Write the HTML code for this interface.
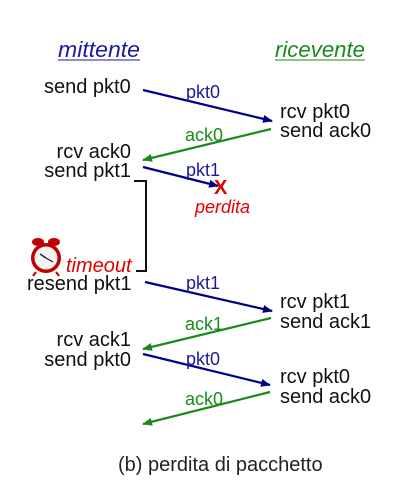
<!DOCTYPE html>
<html><head><meta charset="utf-8"><style>
html,body{margin:0;padding:0;background:#fff;width:401px;height:483px;overflow:hidden}
svg{display:block}
text{font-family:"Liberation Sans",sans-serif}
</style></head><body>
<svg width="401" height="483" viewBox="0 0 401 483">
<defs>
<marker id="ab" markerWidth="10" markerHeight="8" refX="9" refY="4" orient="auto" markerUnits="userSpaceOnUse"><path d="M0,0 L10,4 L0,8 Z" fill="#00008b"/></marker>
<marker id="ag" markerWidth="10" markerHeight="8" refX="9" refY="4" orient="auto" markerUnits="userSpaceOnUse"><path d="M0,0 L10,4 L0,8 Z" fill="#1a8a1a"/></marker>
</defs>
<text x="58" y="57" font-size="22" font-style="italic" fill="#1a1aa0" textLength="82" lengthAdjust="spacingAndGlyphs">mittente</text>
<line x1="58" y1="60" x2="140" y2="60" stroke="#1a1aa0" stroke-width="1"/>
<text x="275" y="57" font-size="22" font-style="italic" fill="#1a8a1a" textLength="90" lengthAdjust="spacingAndGlyphs">ricevente</text>
<line x1="275" y1="60" x2="365" y2="60" stroke="#1a8a1a" stroke-width="1"/>
<g font-size="20" fill="#111">
<text x="44" y="93">send pkt0</text>
<text x="280" y="118">rcv pkt0</text>
<text x="280" y="137">send ack0</text>
<text x="131" y="158" text-anchor="end">rcv ack0</text>
<text x="131" y="177" text-anchor="end">send pkt1</text>
<text x="27" y="290">resend pkt1</text>
<text x="280" y="308">rcv pkt1</text>
<text x="280" y="328">send ack1</text>
<text x="131" y="346" text-anchor="end">rcv ack1</text>
<text x="131" y="366" text-anchor="end">send pkt0</text>
<text x="280" y="383">rcv pkt0</text>
<text x="280" y="403">send ack0</text>
</g>
<g stroke-width="2.2" fill="none">
<line x1="143" y1="90" x2="272" y2="121" stroke="#00008b" marker-end="url(#ab)"/>
<line x1="271" y1="129" x2="143" y2="160" stroke="#1a8a1a" marker-end="url(#ag)"/>
<line x1="143" y1="167" x2="218" y2="186" stroke="#00008b" marker-end="url(#ab)"/>
<line x1="145" y1="282" x2="272" y2="311" stroke="#00008b" marker-end="url(#ab)"/>
<line x1="271" y1="318" x2="143" y2="349" stroke="#1a8a1a" marker-end="url(#ag)"/>
<line x1="143" y1="354" x2="270" y2="385" stroke="#00008b" marker-end="url(#ab)"/>
<line x1="270" y1="392" x2="143" y2="424" stroke="#1a8a1a" marker-end="url(#ag)"/>
<polyline points="134,181 146,181 146,271 136,271" stroke="#111" stroke-width="2"/>
</g>
<g font-size="18">
<text x="186" y="98" fill="#1a1aa0">pkt0</text>
<text x="185" y="141" fill="#1a8a1a">ack0</text>
<text x="186" y="176" fill="#1a1aa0">pkt1</text>
<text x="186" y="289" fill="#1a1aa0">pkt1</text>
<text x="185" y="330" fill="#1a8a1a">ack1</text>
<text x="186" y="365" fill="#1a1aa0">pkt0</text>
<text x="185" y="405" fill="#1a8a1a">ack0</text>
</g>
<text x="214" y="194" font-size="20" font-weight="bold" fill="#e00000">X</text>
<text x="195" y="213" font-size="18" font-style="italic" fill="#e00000">perdita</text>
<text x="66" y="272" font-size="20" font-style="italic" fill="#e00000">timeout</text>
<g>
<ellipse cx="38" cy="242" rx="6" ry="4" fill="#c00000"/>
<ellipse cx="54" cy="242" rx="6" ry="4" fill="#c00000"/>
<circle cx="46" cy="258" r="15" fill="#c00000"/>
<circle cx="46" cy="258" r="11.5" fill="#f4f4f4"/>
<line x1="46" y1="258" x2="40" y2="254" stroke="#222" stroke-width="1.5"/>
<line x1="46" y1="258" x2="53" y2="262" stroke="#222" stroke-width="1.2"/>
<line x1="36" y1="272" x2="33" y2="276" stroke="#c00000" stroke-width="2"/>
<line x1="56" y1="272" x2="59" y2="276" stroke="#c00000" stroke-width="2"/>
</g>
<text x="118" y="471" font-size="20" fill="#222">(b) perdita di pacchetto</text>
</svg>
</body></html>
